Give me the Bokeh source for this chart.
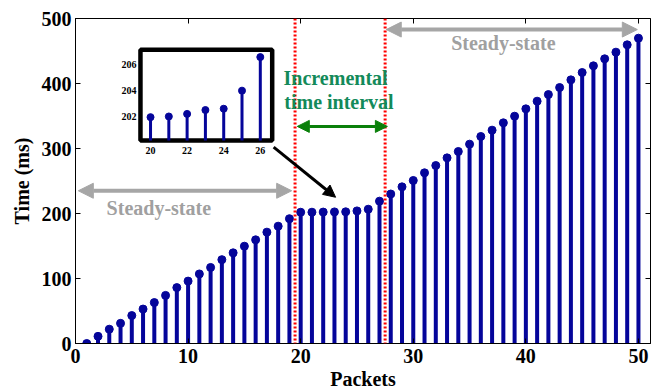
from bokeh.plotting import figure
from bokeh.models import (Range1d, LinearAxis, Span, Arrow, NormalHead, Label,
                          FixedTicker, ColumnDataSource, CustomLabelingPolicy)
from bokeh.embed import file_html
from bokeh.resources import INLINE
from bokeh.core.properties import value

# ---------------- data ----------------
packets = list(range(1, 51))
times = [0, 11, 22, 31, 43, 53, 63, 74, 86, 96,
         107, 117, 129, 139.5, 149.7, 159.5, 171.3, 180.5, 192, 201.95,
         202.0, 202.2, 202.5, 202.6, 204.0, 206.6, 219, 230, 241, 250.8,
         262.6, 273.8, 285.6, 295.4, 306.7, 318.5, 328.2, 339.5, 349.7, 361,
         372.8, 383, 393.8, 405.6, 416.9, 427.2, 438, 448.2, 459.5, 469.7]
x_ticks = [0, 10, 20, 30, 40, 50]
y_ticks = [0, 100, 200, 300, 400, 500]

inset_packets = packets[19:26]
inset_times = times[19:26]
inset_x_ticks = [20, 22, 24, 26]
inset_y_ticks = [202, 204, 206]

interval_bounds = [19.5, 27.5]

FONT = "Liberation Serif"
STEM = "#05059a"
GRAY = "#a6a6a6"
RED = "#ff0000"
GREEN_TXT = "#138a5a"
GREEN_ARW = "#0a800a"

p = figure(width=652, height=392, x_range=Range1d(0, 51.07), y_range=Range1d(0, 500),
           output_backend="svg", toolbar_location=None,
           min_border_left=75, min_border_right=2, min_border_top=18, min_border_bottom=49)
p.background_fill_color = "white"
p.border_fill_color = "white"
p.grid.visible = False
p.outline_line_color = "black"
p.outline_line_width = 1

for ax, tk in ((p.xaxis[0], x_ticks), (p.yaxis[0], y_ticks)):
    ax.ticker = FixedTicker(ticks=tk)
    ax.major_tick_in = 5
    ax.major_tick_out = 0
    ax.minor_tick_line_color = None
    ax.major_label_text_font = FONT
    ax.major_label_text_font_style = "bold"
    ax.major_label_text_font_size = "20px"
    ax.major_label_text_color = "black"
    ax.axis_label_text_font = FONT
    ax.axis_label_text_font_style = "bold"
    ax.axis_label_text_font_size = "20px"
    ax.axis_label_text_color = "black"
    ax.axis_line_color = "black"
    ax.major_tick_line_color = "black"

p.xaxis.axis_label = "Packets"
p.yaxis.axis_label = "Time (ms)"
p.xaxis.major_label_standoff = 5
p.xaxis.axis_label_standoff = 2
p.yaxis.major_label_standoff = 4
p.yaxis.axis_label_standoff = 6

# mirrored tick marks (no labels)
def no_labels():
    return CustomLabelingPolicy(code="for (const i of indices) { indices.unset(i) }\nreturn indices")

top_ax = LinearAxis(ticker=FixedTicker(ticks=x_ticks), major_label_policy=no_labels(),
                    major_label_text_font_size="0px",
                    major_tick_in=5, major_tick_out=0, minor_tick_line_color=None,
                    axis_line_color=None, major_label_standoff=0, major_tick_line_color="black")
right_ax = LinearAxis(ticker=FixedTicker(ticks=y_ticks), major_label_policy=no_labels(),
                      major_label_text_font_size="0px",
                      major_tick_in=5, major_tick_out=0, minor_tick_line_color=None,
                      axis_line_color=None, major_label_standoff=0, major_tick_line_color="black")
p.add_layout(top_ax, "above")
p.add_layout(right_ax, "right")

# ---------------- stems ----------------
src = ColumnDataSource(dict(x=packets, y=times))
p.segment(x0="x", y0=0, x1="x", y1="y", source=src, line_width=4, line_color=STEM)
p.scatter(x="x", y="y", source=src, size=8, fill_color=STEM, line_color=STEM)

# ---------------- red dotted interval lines ----------------
for b in interval_bounds:
    p.add_layout(Span(location=b, dimension="height", line_color=RED,
                      line_width=3, line_dash="2 2"))

# ---------------- annotations ----------------
def head(c, s):
    return NormalHead(size=s, fill_color=c, line_color=c)

p.add_layout(Arrow(start=head(GRAY, 15), end=head(GRAY, 15), x_start=0.25, y_start=235,
                   x_end=19.2, y_end=235, line_color=GRAY, line_width=4))
p.add_layout(Arrow(start=head(GRAY, 15), end=head(GRAY, 15), x_start=27.6, y_start=483,
                   x_end=49.9, y_end=483, line_color=GRAY, line_width=4))
p.add_layout(Arrow(start=head(GREEN_ARW, 12), end=head(GREEN_ARW, 12), x_start=19.7, y_start=334,
                   x_end=27.7, y_end=334, line_color=GREEN_ARW, line_width=3))
p.add_layout(Arrow(end=head("black", 12), x_start=17.6, y_start=302,
                   x_end=23.1, y_end=225, line_color="black", line_width=3))

def lab(x, y, t, c):
    p.add_layout(Label(x=x, y=y, text=t, text_font=FONT, text_font_style="bold",
                       text_font_size="20px", text_color=c, text_align="center",
                       text_baseline="middle"))

lab(7.4, 209, "Steady-state", "#a0a0a0")
lab(38.0, 462, "Steady-state", "#a0a0a0")
lab(23.1, 408, "Incremental", GREEN_TXT)
lab(23.4, 371, "time interval", GREEN_TXT)

# ---------------- inset ----------------
ix0, ix1 = 19.45, 26.65
iy0, iy1 = 200.14, 207.16
sub = p.subplot(x_source=Range1d(ix0, ix1), y_source=Range1d(iy0, iy1),
                x_target=Range1d(5.77, 17.47), y_target=Range1d(312.3, 451.8))
sub.quad(left=[ix0], right=[ix1], bottom=[iy0], top=[iy1], fill_color="white",
         line_color="black", line_width=4.5)
isrc = ColumnDataSource(dict(x=inset_packets, y=inset_times))
sub.segment(x0="x", y0=iy0, x1="x", y1="y", source=isrc, line_width=3, line_color=STEM)
sub.scatter(x="x", y="y", source=isrc, size=7, fill_color=STEM, line_color=STEM)
sub.text(x=inset_x_ticks, y=[iy0] * len(inset_x_ticks), text=[str(t) for t in inset_x_ticks],
         y_offset=6, text_align="center", text_baseline="top", text_font=value(FONT),
         text_font_style="bold", text_font_size="10px", text_color="black")
sub.text(x=[ix0] * len(inset_y_ticks), y=inset_y_ticks, text=[str(t) for t in inset_y_ticks],
         x_offset=-4, text_align="right", text_baseline="middle", text_font=value(FONT),
         text_font_style="bold", text_font_size="10px", text_color="black")

open("out.html", "w").write(file_html(p, INLINE))
